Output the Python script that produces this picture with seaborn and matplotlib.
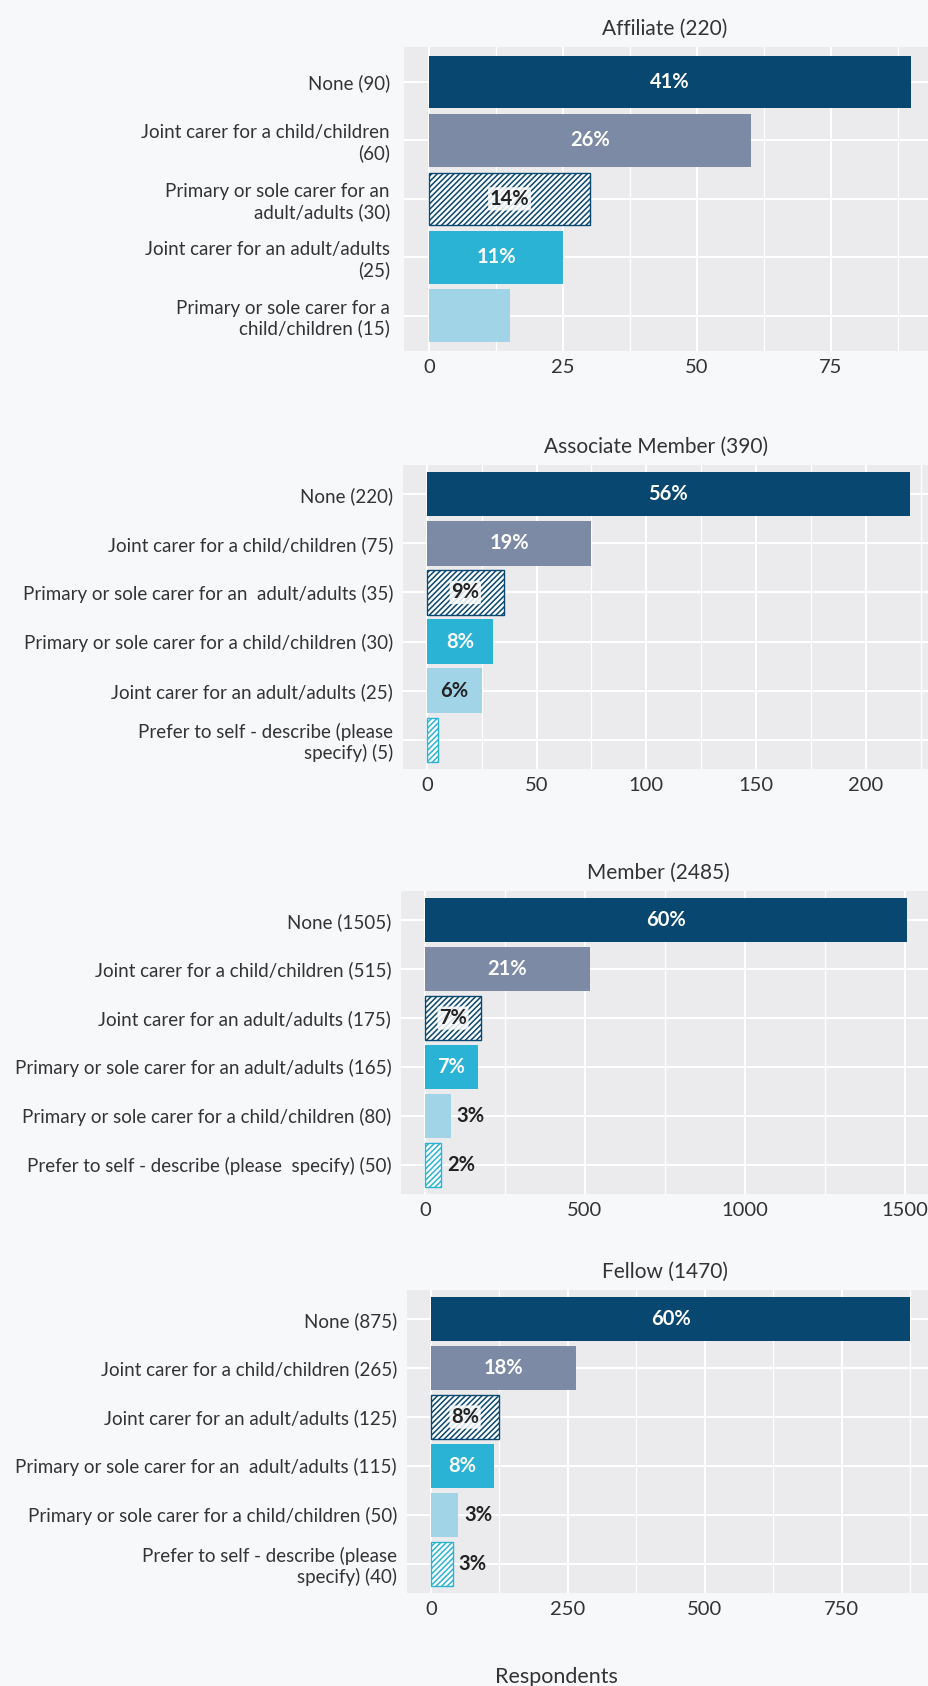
import matplotlib
matplotlib.use("Agg")
import matplotlib.pyplot as plt
import seaborn as sns
import pandas as pd
from matplotlib.ticker import MultipleLocator

# Affiliate
affiliate_labels = ["None (90)", "Joint carer for a child/children\n(60)",
                    "Primary or sole carer for an\nadult/adults (30)",
                    "Joint carer for an adult/adults\n(25)",
                    "Primary or sole carer for a\nchild/children (15)"]
affiliate_counts = [90, 60, 30, 25, 15]
affiliate_pct = ["41%", "26%", "14%", "11%", None]

# Associate Member
associate_labels = ["None (220)", "Joint carer for a child/children (75)",
                    "Primary or sole carer for an  adult/adults (35)",
                    "Primary or sole carer for a child/children (30)",
                    "Joint carer for an adult/adults (25)",
                    "Prefer to self - describe (please\nspecify) (5)"]
associate_counts = [220, 75, 35, 30, 25, 5]
associate_pct = ["56%", "19%", "9%", "8%", "6%", None]

# Member
member_labels = ["None (1505)", "Joint carer for a child/children (515)",
                 "Joint carer for an adult/adults (175)",
                 "Primary or sole carer for an adult/adults (165)",
                 "Primary or sole carer for a child/children (80)",
                 "Prefer to self - describe (please  specify) (50)"]
member_counts = [1505, 515, 175, 165, 80, 50]
member_pct = ["60%", "21%", "7%", "7%", "3%", "2%"]

# Fellow
fellow_labels = ["None (875)", "Joint carer for a child/children (265)",
                 "Joint carer for an adult/adults (125)",
                 "Primary or sole carer for an  adult/adults (115)",
                 "Primary or sole carer for a child/children (50)",
                 "Prefer to self - describe (please\nspecify) (40)"]
fellow_counts = [875, 265, 125, 115, 50, 40]
fellow_pct = ["60%", "18%", "8%", "8%", "3%", "3%"]

titles = ["Affiliate (220)", "Associate Member (390)", "Member (2485)", "Fellow (1470)"]

# styling by rank within a panel
face_cols = ["#08476F", "#7D8AA5", "#FFFFFF", "#2BB3D5", "#A2D4E7", "#FFFFFF"]
hatch_cols = [None, None, "#08476F", None, None, "#2BB3D5"]
text_white = [True, True, False, True, False, False]
DARK = "#222222"
BG = "#F7F8FA"
PANEL = "#EBEBED"

sns.set_style("darkgrid", {"axes.facecolor": PANEL, "figure.facecolor": BG,
                           "grid.color": "white"})
plt.rcParams["font.family"] = ["Lato", "DejaVu Sans"]
plt.rcParams["hatch.linewidth"] = 1.1

W, H = 929, 1686
fig = plt.figure(figsize=(W / 100, H / 100), dpi=100)
fig.patch.set_facecolor(BG)


def rect(left, top, right, bottom):
    return [left / W, 1 - bottom / H, (right - left) / W, (bottom - top) / H]


# (axes pixel box, xlim, major step, title x, label pad)
layout = [
    (rect(404.5, 47, 929, 350.7), (-4.6, 93.3), 25, 0.497, 10.5),
    (rect(403, 465, 929, 769), (-10.9, 228.8), 50, 0.482, 7),
    (rect(401, 891, 929, 1194), (-75, 1575), 500, 0.4875, 7),
    (rect(406.7, 1290, 929, 1593), (-44, 909), 250, 0.495, 7),
]
data = [
    (affiliate_labels, affiliate_counts, affiliate_pct),
    (associate_labels, associate_counts, associate_pct),
    (member_labels, member_counts, member_pct),
    (fellow_labels, fellow_counts, fellow_pct),
]

for (box, xlim, step, tx, lpad), (labels, counts, pcts), title in zip(layout, data, titles):
    ax = fig.add_axes(box)
    n = len(labels)
    df = pd.DataFrame({"label": labels, "count": counts})
    sns.barplot(data=df, x="count", y="label", hue="label", palette=face_cols[:n],
                width=0.9, saturation=1, legend=False, ax=ax, orient="h")
    for i, p in enumerate(ax.patches[:n]):
        if hatch_cols[i]:
            p.set_hatch("//////")
            p.set_edgecolor(hatch_cols[i])
            p.set_linewidth(1.0)
        else:
            p.set_linewidth(0)
    ax.set_xlim(*xlim)
    ax.set_ylim(n - 0.4, -0.6)
    ax.xaxis.set_major_locator(MultipleLocator(step))
    ax.xaxis.set_minor_locator(MultipleLocator(step / 2))
    ax.grid(which="major", color="white", lw=1.5)
    ax.grid(which="minor", axis="x", color="white", lw=0.9)
    ax.set_axisbelow(True)
    for s in ax.spines.values():
        s.set_visible(False)
    ax.tick_params(axis="y", length=0, pad=lpad, labelsize=13.5, labelcolor="#333333")
    ax.tick_params(axis="x", which="both", length=0, pad=6, labelsize=14.5,
                   labelcolor="#333333")
    ax.set_xlabel("")
    ax.set_ylabel("")
    ax.set_title(title, x=tx, fontsize=15, color="#333333", pad=9)

    # percent labels: inside when bar is wide enough, else just after the end
    fig.canvas.draw()
    px_per_unit = ax.transData.transform((1, 0))[0] - ax.transData.transform((0, 0))[0]
    for i, (c, pct) in enumerate(zip(counts, pcts)):
        if pct is None:
            continue
        if c * px_per_unit > 38:
            kw = dict(ha="center")
            x = c / 2
            col = "white" if text_white[i] else DARK
            if hatch_cols[i]:
                kw["bbox"] = dict(boxstyle="round,pad=0.08", fc="white", ec="none", alpha=0.85)
        else:
            kw = dict(ha="left")
            x = c + 6 / px_per_unit
            col = DARK
        ax.text(x, i, pct, va="center", color=col, fontsize=14.5,
                fontweight="bold", **kw)

fig.text(556 / W, 1 - 1667 / H, "Respondents", ha="center", va="top",
         fontsize=15.5, color="#333333")

fig.savefig("out.png", dpi=100, facecolor=BG)
